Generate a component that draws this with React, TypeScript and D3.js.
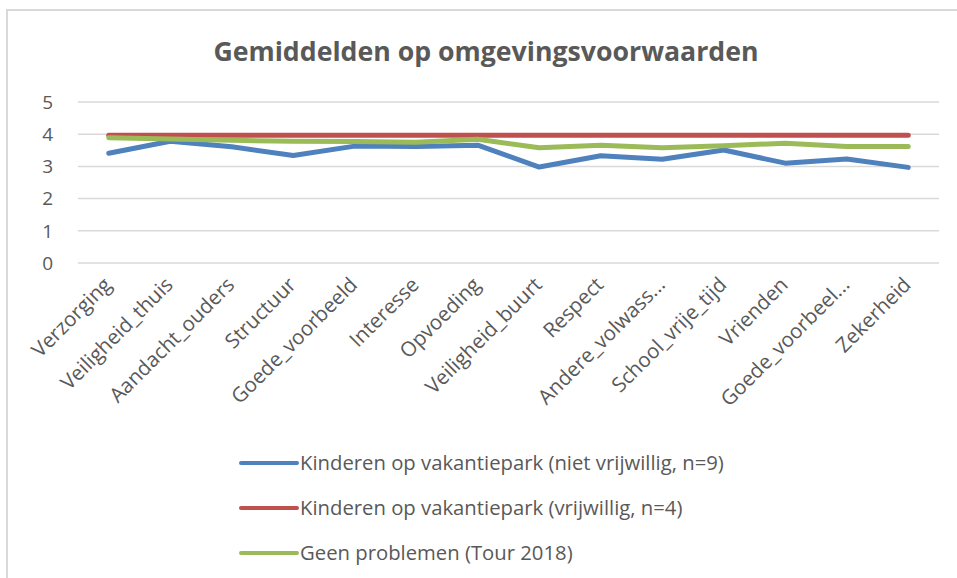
import { useMemo } from "react";
import { line, scaleBand, scaleLinear } from "d3";

const W = 957;
const H = 578;
const PLOT = { left: 78, right: 939, top: 102, bottom: 263 };

const categories = [
  "Verzorging",
  "Veiligheid_thuis",
  "Aandacht_ouders",
  "Structuur",
  "Goede_voorbeeld",
  "Interesse",
  "Opvoeding",
  "Veiligheid_buurt",
  "Respect",
  "Andere_volwass...",
  "School_vrije_tijd",
  "Vrienden",
  "Goede_voorbeel...",
  "Zekerheid",
];

const nietVrijwillig = [3.41, 3.78, 3.61, 3.34, 3.63, 3.62, 3.66, 2.98, 3.33, 3.22, 3.51, 3.1, 3.23, 2.97];
const vrijwillig = [3.97, 3.97, 3.97, 3.97, 3.97, 3.97, 3.97, 3.97, 3.97, 3.97, 3.97, 3.97, 3.97, 3.97];
const geenProblemen = [3.89, 3.85, 3.81, 3.78, 3.77, 3.75, 3.84, 3.58, 3.66, 3.58, 3.64, 3.72, 3.62, 3.62];

const yTicks = [0, 1, 2, 3, 4, 5];

const series = [
  { name: "Kinderen op vakantiepark (niet vrijwillig, n=9)", values: nietVrijwillig, color: "#4f81bd" },
  { name: "Kinderen op vakantiepark (vrijwillig, n=4)", values: vrijwillig, color: "#c0504d" },
  { name: "Geen problemen (Tour 2018)", values: geenProblemen, color: "#9bbb59" },
];

const FONT = "'Open Sans', 'Noto Sans', sans-serif";
const TEXT = "#595959";

export default function App() {
  const x = useMemo(
    () => scaleBand<string>().domain(categories).range([PLOT.left, PLOT.right]),
    []
  );
  const y = useMemo(() => scaleLinear().domain([0, 5]).range([PLOT.bottom, PLOT.top]), []);

  const path = line<number>()
    .x((_, i) => (x(categories[i]) ?? 0) + x.bandwidth() / 2)
    .y((v) => y(v));

  return (
    <svg
      width={W}
      height={H}
      viewBox={`0 0 ${W} ${H}`}
      style={{ position: "absolute", left: 0, top: 0, background: "#fff" }}
      fontFamily={FONT}
    >
      <rect x={7} y={10} width={W} height={H} fill="#fff" stroke="#d9d9d9" strokeWidth={2} />

      <text x={486} y={61} textAnchor="middle" fontSize={26.7} fontWeight={700} fill={TEXT}>
        Gemiddelden op omgevingsvoorwaarden
      </text>

      {yTicks.map((t) => (
        <g key={t}>
          <line x1={PLOT.left} x2={PLOT.right} y1={y(t)} y2={y(t)} stroke="#d9d9d9" strokeWidth={1.5} />
          <text x={53} y={y(t)} dy="0.36em" textAnchor="end" fontSize={19} fill={TEXT}>
            {t}
          </text>
        </g>
      ))}

      {categories.map((c) => {
        const cx = (x(c) ?? 0) + x.bandwidth() / 2;
        return (
          <text
            key={c}
            transform={`translate(${cx + 4},${286}) rotate(-45)`}
            textAnchor="end"
            fontSize={20.5}
            fill={TEXT}
          >
            {c}
          </text>
        );
      })}

      {series.map((s) => (
        <path
          key={s.name}
          d={path(s.values) ?? undefined}
          fill="none"
          stroke={s.color}
          strokeWidth={5}
          strokeLinejoin="round"
          strokeLinecap="round"
        />
      ))}

      {series.map((s, i) => {
        const ly = 463 + i * 45;
        return (
          <g key={s.name}>
            <line x1={241} x2={297} y1={ly} y2={ly} stroke={s.color} strokeWidth={4} strokeLinecap="round" />
            <text x={300} y={ly} dy="0.36em" fontSize={20.3} fill={TEXT}>
              {s.name}
            </text>
          </g>
        );
      })}
    </svg>
  );
}
